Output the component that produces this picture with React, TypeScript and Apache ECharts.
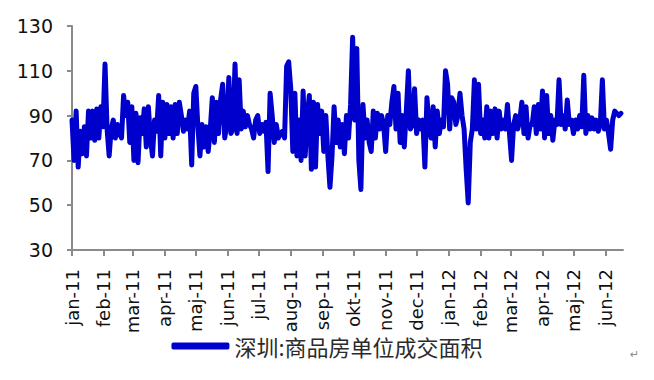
import React, { useEffect, useRef } from "react";
import * as echarts from "echarts";

// Daily axis: 2011-01-01 .. 2012-06-18
const startDate = "2011-01-01";
const dayCount = 535;
const sampleStep = 2; // one reading every 2 days
const monthNames = ["jan", "feb", "mar", "apr", "maj", "jun", "jul", "aug", "sep", "okt", "nov", "dec"];
const yTicks = { min: 30, max: 130, interval: 20 };
const seriesName = "深圳:商品房单位成交面积";

// 深圳:商品房单位成交面积 — values, one every 2 days
const values = [
  88, 70, 92, 67, 83, 73, 85, 72, 92, 80,
  92, 79, 93, 80, 94, 85, 113, 84, 72,
  84, 88, 80, 86, 82, 80, 99, 90, 96, 78,
  94, 70, 91, 69, 89, 82, 93, 76, 94, 80,
  72, 88, 83, 99, 72, 96, 80, 95, 82, 94,
  80, 95, 82, 96, 90, 83, 88, 84, 92,
  68, 100, 103, 85, 72, 86, 76, 85, 74, 84,
  98, 78, 96, 82, 97, 104, 80, 86, 107, 82,
  84, 113, 82, 106, 84, 92, 85, 90, 86,
  84, 80, 88, 90, 82, 86, 83, 87, 65, 100,
  90, 78, 86, 80, 82, 83, 80, 112, 114, 102,
  74, 100, 72, 88, 70, 101, 72, 90, 99, 66,
  96, 67, 95, 82, 92, 74, 90, 72, 58,
  72, 94, 78, 88, 76, 86, 73, 90, 80, 95,
  125, 88, 120, 70, 57, 95, 80, 88, 78, 74,
  92, 80, 91, 84, 90, 86, 74, 90, 86,
  96, 103, 84, 100, 78, 90, 76, 92, 110, 84,
  86, 102, 82, 88, 84, 88, 67, 98, 86, 80,
  94, 76, 92, 82, 88, 85, 110, 104, 84, 98,
  96, 86, 90, 100, 90, 84, 66, 51, 78,
  84, 106, 84, 104, 82, 88, 80, 94, 80, 92,
  82, 93, 80, 92, 84, 88, 84, 95, 82, 70,
  86, 90, 84, 88, 96, 82, 94, 80, 86,
  86, 94, 82, 95, 84, 101, 80, 99, 82, 90,
  79, 88, 86, 106, 86, 90, 84, 97, 86, 88,
  82, 88, 84, 90, 85, 108, 82, 90, 84, 89,
  84, 88, 83, 86, 106, 84, 88, 82, 75,
  88, 92, 91, 90, 91,
];

function buildDays(): string[] {
  const out: string[] = [];
  const d0 = new Date(startDate + "T00:00:00Z");
  for (let i = 0; i < dayCount; i++) {
    const d = new Date(d0.getTime() + i * 86400000);
    out.push(d.toISOString().slice(0, 10));
  }
  return out;
}

export default function App() {
  const ref = useRef<HTMLDivElement>(null);
  useEffect(() => {
    if (!ref.current) return;
    const chart = echarts.init(ref.current, undefined, { renderer: "svg" });
    const days = buildDays();
    const isMonthStart = (i: number) => !!days[i] && days[i].slice(8, 10) === "01";
    const fmt = (s: string) => {
      const m = parseInt(s.slice(5, 7), 10) - 1;
      return monthNames[m] + "-" + s.slice(2, 4);
    };
    chart.setOption({
      animation: false,
      backgroundColor: "#ffffff",
      grid: { left: 72, right: 31, top: 26, bottom: 130, containLabel: false },
      legend: {
        left: "center",
        top: 330,
        icon: "roundRect",
        itemWidth: 58,
        itemHeight: 7,
        itemGap: 10,
        textStyle: { fontFamily: "Noto Sans CJK SC", fontSize: 22, color: "#2b2b2b" },
        data: [seriesName],
      },
      xAxis: {
        type: "category",
        data: days,
        boundaryGap: false,
        axisLine: { lineStyle: { color: "#8a8a8a", width: 2 } },
        axisTick: {
          interval: (i: number) => isMonthStart(i),
          length: 6,
          lineStyle: { color: "#8a8a8a", width: 2 },
        },
        axisLabel: {
          interval: (i: number) => isMonthStart(i),
          rotate: 90,
          margin: 19,
          formatter: (v: string) => fmt(v),
          fontFamily: "DejaVu Sans",
          fontSize: 18,
          color: "#111",
        },
        splitLine: { show: false },
      },
      yAxis: {
        type: "value",
        min: yTicks.min,
        max: yTicks.max,
        interval: yTicks.interval,
        axisLine: { show: true, lineStyle: { color: "#8a8a8a", width: 2 } },
        axisTick: { show: true, length: 5, lineStyle: { color: "#8a8a8a", width: 2 } },
        axisLabel: { fontFamily: "DejaVu Sans", fontSize: 19, color: "#111", margin: 19 },
        splitLine: { show: false },
      },
      series: [
        {
          name: seriesName,
          type: "line",
          data: values.map((v, i) => [i * sampleStep, v]),
          showSymbol: false,
          symbol: "none",
          color: "#0000cc",
          lineStyle: { color: "#0000cc", width: 5, join: "round", cap: "round" },
        },
      ],
      graphic: [
        {
          type: "text",
          left: 630,
          top: 349,
          style: { text: "↵", fontSize: 11, fill: "#888", fontFamily: "DejaVu Sans" },
        },
      ],
    });
    return () => chart.dispose();
  }, []);
  return (
    <div style={{ position: "fixed", left: 0, top: 0, width: 654, height: 380 }}>
      <div ref={ref} style={{ width: 654, height: 380 }} />
    </div>
  );
}
